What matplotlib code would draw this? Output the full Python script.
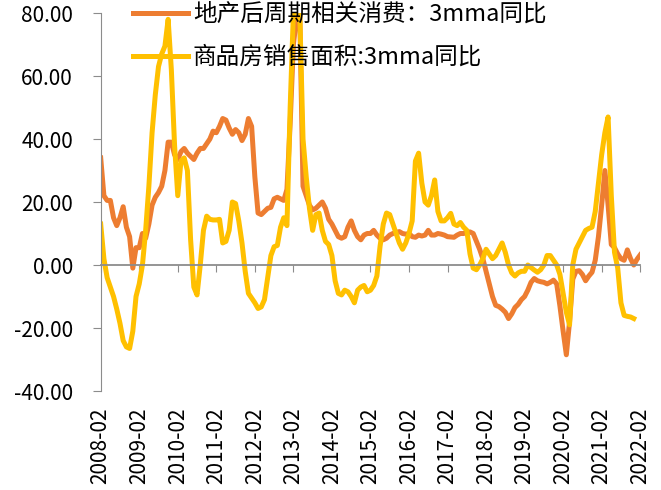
import numpy as np
import matplotlib
matplotlib.use("Agg")
import matplotlib.pyplot as plt
from matplotlib.ticker import FormatStrFormatter

plt.rcParams['font.family'] = ['Noto Sans CJK SC', 'DejaVu Sans']
plt.rcParams['axes.unicode_minus'] = False

# 月度数据，2008-02 起
xtick_labels = ['2008-02', '2009-02', '2010-02', '2011-02', '2012-02', '2013-02', '2014-02',
                '2015-02', '2016-02', '2017-02', '2018-02', '2019-02', '2020-02', '2021-02',
                '2022-02']
name_consume = '地产后周期相关消费：3mma同比'
name_house = '商品房销售面积:3mma同比'

consume = [34, 22, 20.5, 20.5, 15, 12.5, 15, 18.5, 12, 9,
           -1, 5.5, 5.5, 10, 8.5, 13, 19, 21.5, 23, 25,
           30, 39, 39, 35, 33.5, 36, 37, 35.5, 34.5, 33.5,
           35.5, 37, 37, 38.5, 40, 42.5, 42, 44, 46.5, 46,
           43.5, 41.5, 43, 42, 39.5, 41.5, 46.5, 44, 28, 16.5,
           16, 17, 18, 18.3, 21, 21.5, 21, 20.5, 24, 45,
           70, 78.5, 79, 25, 22, 19, 17.5, 18, 19, 20,
           18, 14.5, 13, 11, 9, 8.5, 9, 12, 14, 11,
           9, 8, 9.5, 10, 10, 11, 9.5, 8.5, 8, 8.5,
           9.5, 10, 10.3, 10.6, 10, 9.8, 10, 9, 8.8, 9.5,
           9.2, 9.5, 11, 9.5, 9.5, 10, 9.8, 9.5, 9, 8.9,
           8.8, 9.5, 10, 10, 10.3, 10.5, 10, 7.5, 5, 2,
           -2, -6, -10, -12.8, -13.2, -14, -15, -17, -15.5, -13.5,
           -12.5, -11, -10, -8, -5.5, -4.3, -5, -5.3, -5.5, -6,
           -5.5, -4.8, -6, -13, -21, -28.5, -18, -4.5, -2, -1.8,
           -3, -5, -3.5, -2.3, 1.5, 9, 19, 30, 19, 6.5,
           5.5, 3.5, 2, 1.5, 4.8, 2, 0, 1.8, 3.2]

house = [13, 2, -4, -7, -10, -14, -18.5, -24, -26, -26.5,
         -21, -10, -6, 0, 11, 25, 42, 54, 63, 67,
         69.5, 78, 62, 38, 22, 33, 34, 30, 8, -7,
         -9.5, 0, 11, 15.5, 14.5, 14.3, 14.3, 14.5, 7, 7.5,
         11, 20, 19.5, 14, 7, -2, -9, -10.5, -12, -13.8,
         -13.3, -11, -4, 3, 5.8, 6.2, 12, 15, 12.5, 50,
         80, 80.5, 79.5, 40, 28, 18, 11, 16, 16.5, 11,
         7.5, 6.5, 3, -5, -9, -9.5, -8, -8.5, -10, -12,
         -8, -7, -6.5, -8.5, -8, -6.5, -3.5, 6, 13, 16.5,
         16, 13, 10, 7, 5, 7, 10, 14, 33, 35.5,
         26, 20, 19, 22, 27, 17, 14, 14, 15, 16.4,
         13, 12.5, 13.5, 12, 11, 3.5, -1, -1.5, 0, 2,
         5, 3.5, 2, 3, 5, 7, 4, 0, -2.5, -3.5,
         -2.5, -2, -2, 0, -0.8, -1.6, -2.3, -1.5, 0, 3,
         3, 1.5, 0, -3, -9, -15, -19, 0, 5, 7,
         9, 11, 11.6, 12, 17, 26, 35, 42, 47, 22,
         4, -1, -12, -16, -16.3, -16.5, -17]

fig = plt.figure(figsize=(6.61, 4.9), dpi=100)
ax = fig.add_axes([100.7 / 661, 1 - 391 / 490, 539.5 / 661, 378 / 490])

ax.plot(np.arange(len(consume)), consume, color='#ED7D31', lw=3.6, label=name_consume)
ax.plot(np.arange(len(house)), house, color='#FFC000', lw=3.6, label=name_house)

ax.set_xlim(0, len(consume) - 1)
ax.set_ylim(-40, 80)
ax.set_yticks(np.arange(-40, 81, 20))
ax.yaxis.set_major_formatter(FormatStrFormatter('%.2f'))

grey = '#8c8c8c'
ax.spines['top'].set_visible(False)
ax.spines['right'].set_visible(False)
ax.spines['left'].set_color(grey)
ax.spines['bottom'].set_color(grey)
ax.spines['bottom'].set_position(('data', 0))
ax.spines['bottom'].set_linewidth(1.3)

tick_pos = np.arange(0, len(consume), 12)
ax.set_xticks(tick_pos)
ax.tick_params(axis='x', direction='out', length=5, color=grey, labelbottom=False)
ax.tick_params(axis='y', direction='out', length=6, color=grey, labelsize=15, pad=14)

# 日期标签放在图底部
sec = ax.secondary_xaxis('bottom')
sec.set_xticks(tick_pos, labels=xtick_labels, rotation=90)
sec.tick_params(length=0, labelsize=15, pad=12)
sec.spines['bottom'].set_visible(False)

ax.legend(loc='upper left', bbox_to_anchor=(133 / 661, 1 - 3 / 490),
          bbox_transform=fig.transFigure, frameon=False, fontsize=17,
          handlelength=2.33, handletextpad=0.2, labelspacing=0.85,
          borderpad=0, borderaxespad=0)

fig.savefig('out.png', dpi=100)
